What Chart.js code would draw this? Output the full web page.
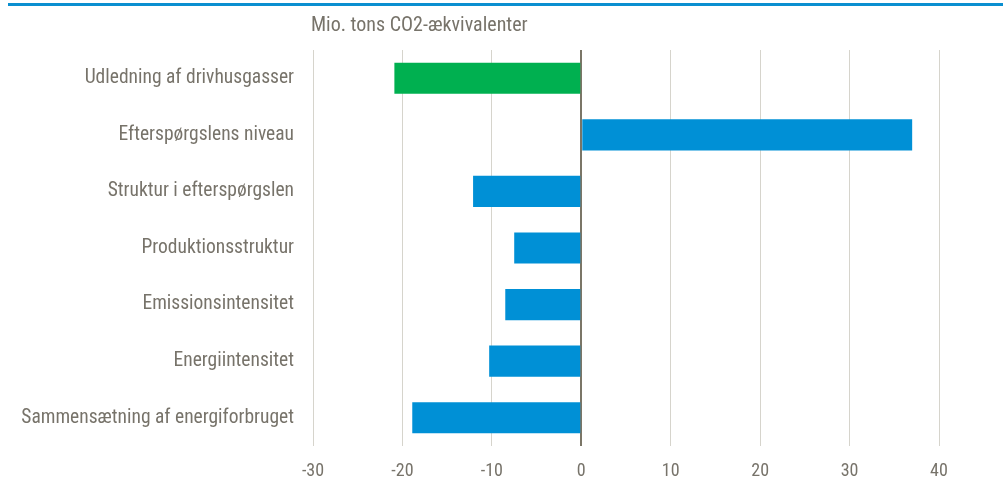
<!DOCTYPE html>
<html>
<head>
<meta charset="utf-8">
<script src="https://cdn.jsdelivr.net/npm/chart.js@4"></script>
<style>
  html, body { margin: 0; padding: 0; background: #fff; }
  .wrap { position: relative; width: 1003px; height: 501px; }
  .topline { position: absolute; left: 8px; right: 0; top: 3px; height: 3px; background: #0a8fd0; }
</style>
</head>
<body>
<div class="wrap">
  <div class="topline"></div>
  <canvas id="decompChart" width="1003" height="501"></canvas>
</div>
<script>
const categories = [
  'Udledning af drivhusgasser',
  'Efterspørgslens niveau',
  'Struktur i efterspørgslen',
  'Produktionsstruktur',
  'Emissionsintensitet',
  'Energiintensitet',
  'Sammensætning af energiforbruget'
];
const values = [-20.9, 37.0, -12.1, -7.5, -8.5, -10.3, -18.9];
const barColors = ['#00b050', '#0090d6', '#0090d6', '#0090d6', '#0090d6', '#0090d6', '#0090d6'];
const unitLabel = 'Mio. tons CO2-ækvivalenter';

const textColor = '#77736a';
const fontFamily = '"Roboto Condensed", "Liberation Sans Narrow", sans-serif';

// unit text placed above the plot, flush with its left edge
const unitTitle = {
  id: 'unitTitle',
  afterDraw(chart) {
    const c = chart.ctx;
    c.save();
    c.font = '20px ' + fontFamily;
    c.fillStyle = textColor;
    c.textBaseline = 'middle';
    c.fillText(unitLabel, chart.chartArea.left - 2, 26);
    c.restore();
  }
};

const ctx = document.getElementById('decompChart').getContext('2d');
new Chart(ctx, {
  type: 'bar',
  data: {
    labels: categories,
    datasets: [{
      data: values,
      backgroundColor: barColors,
      barPercentage: 0.55,
      categoryPercentage: 1.0,
    }],
  },
  options: {
    indexAxis: 'y',
    responsive: false,
    animation: false,
    layout: { padding: { top: 50, right: 64, left: 0, bottom: 0 } },
    plugins: { legend: { display: false }, tooltip: { enabled: false } },
    scales: {
      x: {
        min: -30,
        max: 40,
        border: { display: false },
        grid: {
          drawTicks: false,
          color: ctx => ctx.tick && ctx.tick.value === 0 ? '#7b7667' : '#d6d4cc',
          lineWidth: ctx => ctx.tick && ctx.tick.value === 0 ? 2 : 1,
        },
        ticks: {
          stepSize: 10,
          padding: 15,
          color: textColor,
          font: { family: fontFamily, size: 18 },
        },
        afterFit(scale) { scale.height = 55; }
      },
      y: {
        border: { display: false },
        grid: { display: false, drawTicks: false },
        ticks: {
          padding: 19,
          color: textColor,
          font: { family: fontFamily, size: 19.5 },
        },
        afterFit(scale) { scale.width = 313; }
      }
    }
  },
  plugins: [unitTitle],
});
</script>
</body>
</html>
